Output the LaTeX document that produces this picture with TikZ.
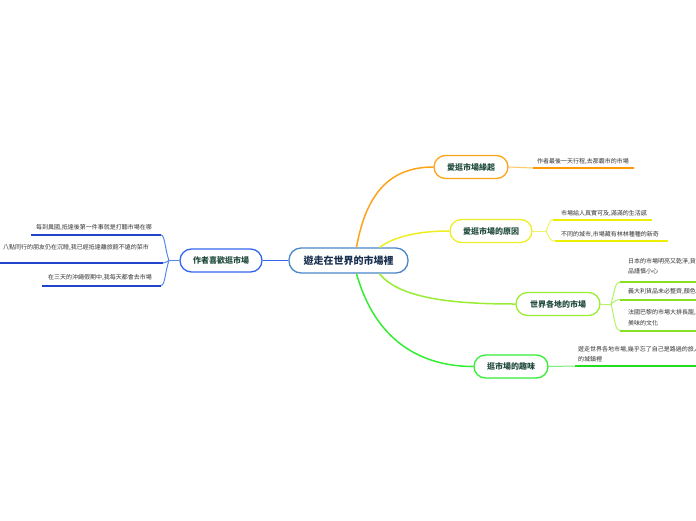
\documentclass[tikz,border=0pt]{standalone}
\usepackage{fontspec}
\setmainfont{Noto Sans CJK TC}
\definecolor{cOr}{HTML}{FFA319}
\definecolor{cOrL}{HTML}{FFC766}
\definecolor{cOrU}{HTML}{FF9900}
\definecolor{cYe}{HTML}{EEEE22}
\definecolor{cYeL}{HTML}{F2F266}
\definecolor{cYeU}{HTML}{EEEE00}
\definecolor{cLi}{HTML}{99EE33}
\definecolor{cLiL}{HTML}{B5F266}
\definecolor{cLiU}{HTML}{88E022}
\definecolor{cGr}{HTML}{33EE33}
\definecolor{cGrL}{HTML}{77EE77}
\definecolor{cGrU}{HTML}{22DD22}
\definecolor{cBl}{HTML}{3366EE}
\definecolor{cBlL}{HTML}{5588EE}
\definecolor{cBlU}{HTML}{2244CC}
\definecolor{cCen}{HTML}{4A86C8}
\definecolor{tBr}{HTML}{1F4A3A}
\definecolor{tCen}{HTML}{1A3050}
\definecolor{tLf}{HTML}{333333}
\tikzset{
  central/.style={draw=cCen, line width=1.3pt, fill=white, rounded corners=12pt,
    minimum width=119pt, minimum height=25pt, inner sep=0pt,
    font=\fontsize{10}{12}\selectfont\bfseries, text=tCen},
  branch/.style={draw=#1, line width=1.3pt, fill=white, rounded corners=11.5pt,
    minimum height=23pt, inner sep=0pt,
    font=\fontsize{8}{10}\selectfont\bfseries, text=tBr},
  leaf/.style={inner sep=0pt, align=left, text=tLf,
    font=\fontsize{6}{10.5}\selectfont},
  leafr/.style={inner sep=0pt, align=right, text=tLf,
    font=\fontsize{6}{10.5}\selectfont},
  mainline/.style={draw=#1, line width=1.5pt},
  twig/.style={draw=#1, line width=1pt},
  uline/.style={draw=#1, line width=2pt},
}
\begin{document}
\begin{tikzpicture}[x=1pt,y=-1pt]
\clip (0,0) rectangle (696,520);
\fill[white] (0,0) rectangle (696,520);

% central and branch nodes
\node[central] (c) at (348.5,260.5) {遊走在世界的市場裡};
\node[branch=cOr, minimum width=74pt] (b1) at (471,167) {愛逛市場緣起};
\node[branch=cYe, minimum width=82pt] (b2) at (491,231) {愛逛市場的原因};
\node[branch=cLi, minimum width=84pt] (b3) at (558,304) {世界各地的市場};
\node[branch=cGr, minimum width=74pt] (b4) at (511,366.5) {逛市場的趣味};
\node[branch=cBl, minimum width=82pt] (b5) at (221,260.5) {作者喜歡逛市場};

% main connectors
\draw[mainline=cOr] ([xshift=8pt]c.north) .. controls (365,200) and (385,167) .. (b1.west);
\draw[mainline=cYe] ([xshift=31pt]c.north) .. controls (395,236) and (420,231) .. (b2.west);
\draw[mainline=cLi] ([xshift=31pt]c.south) .. controls (400,300) and (460,304) .. (b3.west);
\draw[mainline=cGr] ([xshift=8pt]c.south) .. controls (375,340) and (420,366.5) .. (b4.west);
\draw[mainline=cBl] (c.west) -- (b5.east);

% ---- leaves of b1
\coordinate (u1s) at (533,168); \coordinate (u1e) at (634,168);
\node[leaf, anchor=base west] (l1) at (537,163.3) {作者最後一天行程,去那霸市的市場};
\draw[twig=cOrL] (b1.east) -- (u1s);
\draw[uline=cOrU] (u1s) -- (u1e);

% ---- leaves of b2
\coordinate (f2) at (546,231);
\coordinate (u2as) at (553,219.5); \coordinate (u2ae) at (652,219.5);
\coordinate (u2bs) at (555,241); \coordinate (u2be) at (668,241);
\node[leaf, anchor=base west] (l2a) at (561,215.3) {市場給人真實可及,滿滿的生活感};
\node[leaf, anchor=base west] (l2b) at (561,236.3) {不同的城市,市場藏有林林種種的新奇};
\draw[twig=cYeL] (b2.east) -- (f2);
\draw[twig=cYeL] (f2) .. controls (550,222) and (550,219.5) .. (u2as);
\draw[twig=cYeL] (f2) .. controls (550,240) and (551,241) .. (u2bs);
\draw[uline=cYeU] (u2as) -- (u2ae);
\draw[uline=cYeU] (u2bs) -- (u2be);

% ---- leaves of b3
\coordinate (f3) at (611,304);
\coordinate (u3as) at (620,282); \coordinate (u3ae) at (700,282);
\coordinate (u3bs) at (620,299.5); \coordinate (u3be) at (700,299.5);
\coordinate (u3cs) at (620,330.5); \coordinate (u3ce) at (700,330.5);
\node[leaf, anchor=base west] (l3a) at (628,273.8) {日本的市場明亮又乾淨,貨\\品謹慎小心};
\node[leaf, anchor=base west] (l3b) at (628,293.5) {義大利貨品未必整齊,顏色};
\node[leaf, anchor=base west] (l3c) at (628,325.3) {法國巴黎的市場大排長龍,\\美味的文化};
\draw[twig=cLiL] (b3.east) -- (f3);
\draw[twig=cLiL] (f3) .. controls (615,290) and (615,282) .. (u3as);
\draw[twig=cLiL] (f3) .. controls (615,301) and (616,299.5) .. (u3bs);
\draw[twig=cLiL] (f3) .. controls (615,320) and (615,330.5) .. (u3cs);
\draw[uline=cLiU] (u3as) -- (u3ae);
\draw[uline=cLiU] (u3bs) -- (u3be);
\draw[uline=cLiU] (u3cs) -- (u3ce);

% ---- leaves of b4
\coordinate (u4s) at (575,366); \coordinate (u4e) at (700,366);
\node[leaf, anchor=base west] (l4) at (578,361.5) {遊走世界各地市場,幾乎忘了自己是路過的旅人,\\的城鎮裡};
\draw[twig=cGrL] (b4.east) -- (u4s);
\draw[uline=cGrU] (u4s) -- (u4e);

% ---- leaves of b5
\coordinate (f5) at (169,260.5);
\coordinate (u5as) at (161,235); \coordinate (u5ae) at (31,235);
\coordinate (u5bs) at (163,263); \coordinate (u5be) at (-5,263);
\coordinate (u5cs) at (161,285.5); \coordinate (u5ce) at (42,285.5);
\node[leafr, anchor=base east] (l5a) at (152,229.3) {每到異國,抵達後第一件事就是打聽市場在哪};
\node[leafr, anchor=base east] (l5b) at (149,249.3) {八點同行的朋友仍在沉睡,我已經抵達離旅館不遠的菜市};
\node[leafr, anchor=base east] (l5c) at (152,279.3) {在三天的沖繩假期中,我每天都會去市場};
\draw[twig=cBlL] (b5.west) -- (f5);
\draw[twig=cBlL] (f5) .. controls (165,250) and (165,235) .. (u5as);
\draw[twig=cBlL] (f5) .. controls (166,262) and (165,263) .. (u5bs);
\draw[twig=cBlL] (f5) .. controls (165,272) and (165,285.5) .. (u5cs);
\draw[uline=cBlU] (u5as) -- (u5ae);
\draw[uline=cBlU] (u5bs) -- (u5be);
\draw[uline=cBlU] (u5cs) -- (u5ce);
\end{tikzpicture}
\end{document}
